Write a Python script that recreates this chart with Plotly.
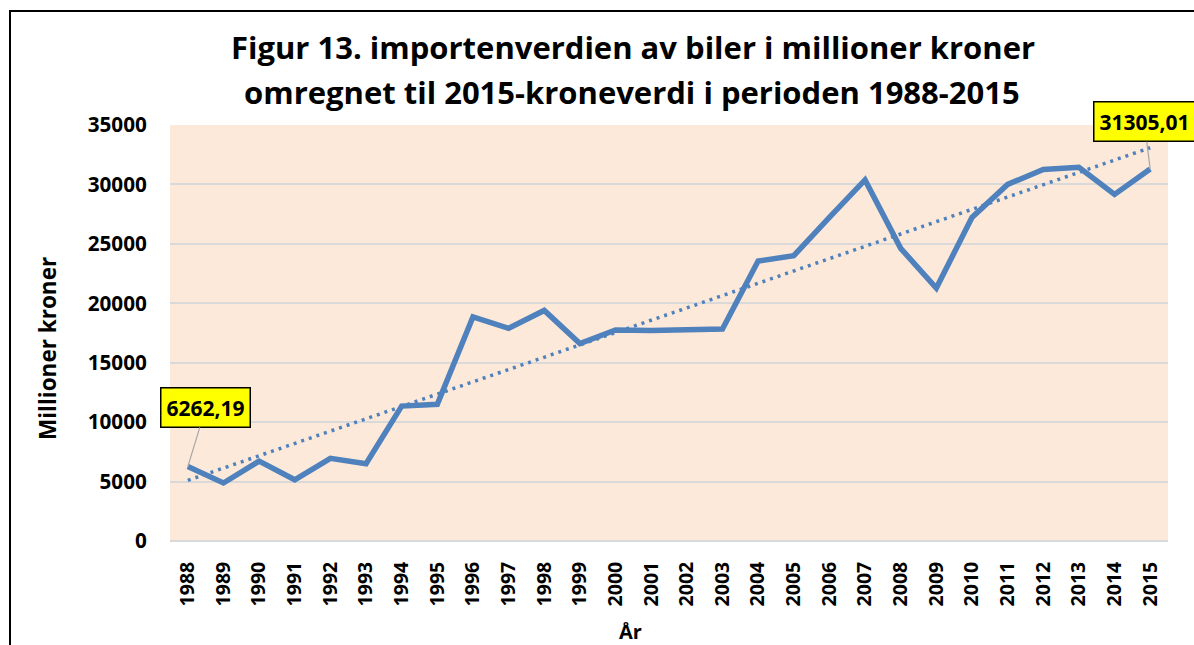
import numpy as np
import plotly.graph_objects as go

years = list(range(1988, 2016))
values = [6262.19, 4880, 6720, 5150, 6960, 6500, 11350, 11500, 18850, 17900, 19400, 16620,
          17750, 17700, 17780, 17840, 23550, 24000, 27220, 30380, 24620, 21280, 27220, 30000,
          31250, 31450, 29160, 31305.01]
y_ticks = [0, 5000, 10000, 15000, 20000, 25000, 30000, 35000]
title_line1 = "Figur 13. importenverdien av biler i millioner kroner"
title_line2 = "omregnet til 2015-kroneverdi i perioden 1988-2015"
y_title = "Millioner kroner"
x_title = "År"
label_first = "6262,19"
label_last = "31305,01"

coef = np.polyfit(years, values, 1)
trend = [coef[0] * y + coef[1] for y in years]

W, H = 1194, 645
L, R, T, B = 170, 26, 125, 104
pw, ph = W - L - R, H - T - B

def px_x(x):
    return (x - L) / pw

def px_y(y):
    return (H - B - y) / ph

blue = "#4F81BD"
FONT = "Open Sans"

fig = go.Figure()
fig.add_trace(go.Scatter(x=years, y=values, mode="lines",
                         line=dict(color=blue, width=5.5, shape="linear"),
                         showlegend=False, hoverinfo="skip"))
fig.add_trace(go.Scatter(x=years, y=trend, mode="lines",
                         line=dict(color=blue, width=3.5, dash="3px,5px"),
                         showlegend=False, hoverinfo="skip"))

fig.update_layout(
    width=W, height=H,
    margin=dict(l=L, r=R, t=T, b=B, autoexpand=False),
    paper_bgcolor="white",
    plot_bgcolor="#FCE9DA",
    font=dict(family=FONT, color="black"),
    xaxis=dict(range=[1987.5, 2015.5], tickmode="array", tickvals=years,
               ticktext=["<b>%d</b>" % y for y in years], tickangle=-90,
               tickfont=dict(family=FONT, size=19.5, color="black"),
               showgrid=False, zeroline=False, showline=False,
               ticks="outside", ticklen=12, tickcolor="rgba(0,0,0,0)"),
    yaxis=dict(range=[0, 35000], tickmode="array", tickvals=y_ticks,
               ticktext=["<b>%d</b>" % v for v in y_ticks],
               tickfont=dict(family=FONT, size=20.7, color="black"),
               showgrid=True, gridcolor="#D9D9D9", gridwidth=1.5,
               zeroline=True, zerolinecolor="#D9D9D9", zerolinewidth=1.5,
               showline=False,
               ticks="outside", ticklen=18, tickcolor="rgba(0,0,0,0)"),
)

# title lines
for txt, yc, xc in [(title_line1, 47, 633), (title_line2, 92, 632)]:
    fig.add_annotation(text="<b>" + txt + "</b>", xref="paper", yref="paper",
                       x=px_x(xc), y=px_y(yc), xanchor="center", yanchor="middle",
                       showarrow=False, font=dict(family=FONT, size=31, color="black"))

fig.add_annotation(text="<b>" + y_title + "</b>", xref="paper", yref="paper",
                   x=px_x(47), y=px_y(349), xanchor="center", yanchor="middle",
                   textangle=-90, showarrow=False,
                   font=dict(family=FONT, size=22.5, color="black"))
fig.add_annotation(text="<b>" + x_title + "</b>", xref="paper", yref="paper",
                   x=px_x(630), y=px_y(631), xanchor="center", yanchor="middle",
                   showarrow=False,
                   font=dict(family=FONT, size=20, color="black"))

for (xv, yv, txt, ax, ay) in [(years[0], values[0], label_first, 18, -59),
                              (years[-1], values[-1], label_last, -6, -47)]:
    fig.add_annotation(x=xv, y=yv, xref="x", yref="y", text="<b>" + txt + "</b>",
                       showarrow=True, arrowhead=0, arrowwidth=1.2, arrowcolor="#A6A6A6",
                       ax=ax, ay=ay, standoff=0, startstandoff=0,
                       bgcolor="#FFFF00", bordercolor="black", borderwidth=1.5, borderpad=5,
                       font=dict(family=FONT, size=21, color="black"))

# chart border (partly cropped)
fig.add_shape(type="rect", xref="paper", yref="paper",
              x0=px_x(10), x1=px_x(W + 20), y0=px_y(H + 20), y1=px_y(11),
              line=dict(color="black", width=2), fillcolor="rgba(0,0,0,0)", layer="below")

fig.write_html("out.html", config={"displayModeBar": False},
               post_script="document.body.style.margin='0';")
